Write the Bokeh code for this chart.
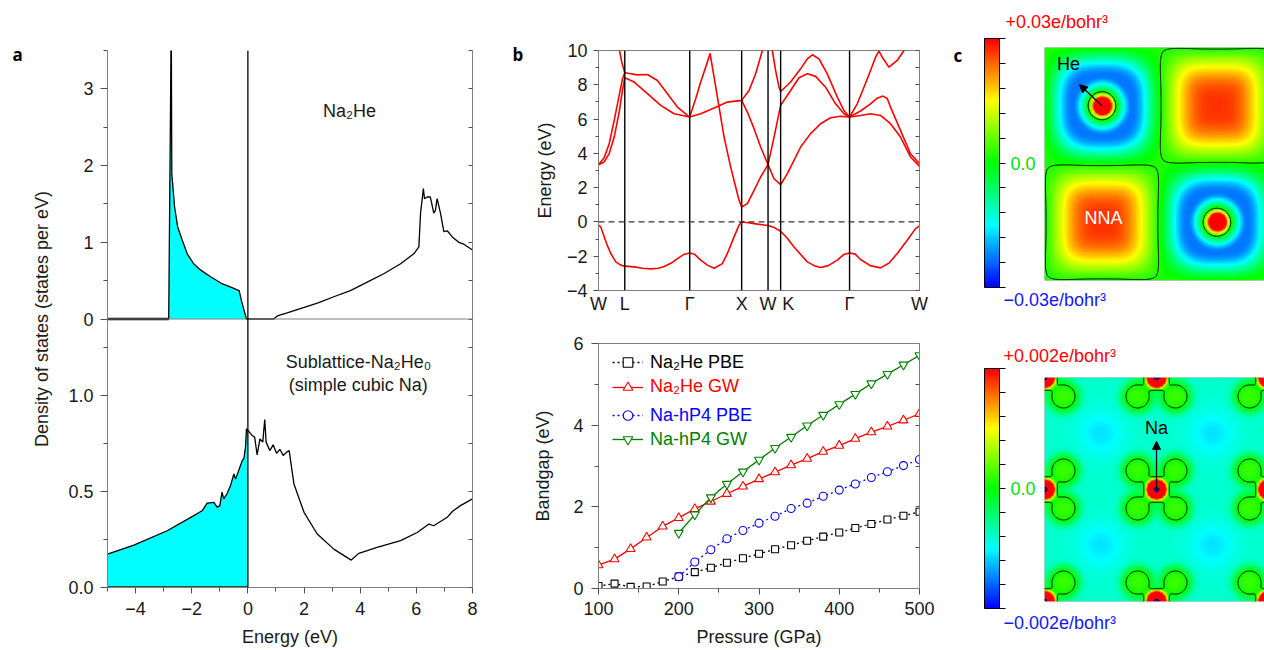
import numpy as np
from bokeh.plotting import figure
from bokeh.layouts import row, column
from bokeh.models import (Range1d, LinearAxis, FixedTicker, Label, Legend, LegendItem,
                          ColorBar, LinearColorMapper, Span, Arrow, NormalHead,
                          CustomJSTickFormatter)
from bokeh.embed import file_html
from bokeh.resources import INLINE

FONT = "Liberation Sans"
LETTER_FONT = "Open Sans"

# ---------------- Panel a : densities of states ----------------
na2he_val_e = [-5.0, -2.82, -2.75, -2.73, -2.71, -2.61, -2.50, -2.34, -2.16, -1.93, -1.69,
               -1.33, -0.92, -0.50, -0.38, -0.31, -0.23, -0.05]
na2he_val_dos = [0.0, 0.0, 3.0, 4.0, 1.90, 1.46, 1.20, 1.03, 0.85, 0.72, 0.64,
                 0.55, 0.46, 0.40, 0.38, 0.37, 0.24, 0.0]
na2he_cond_e = [0.92, 1.05, 1.40, 1.87, 2.50, 3.06, 3.65, 4.25, 4.84, 5.44, 5.91, 6.09,
                6.15, 6.25, 6.29, 6.39, 6.50, 6.62, 6.68, 6.74, 6.86, 6.98, 7.10, 7.28,
                7.51, 7.69, 8.0]
na2he_cond_dos = [0.0, 0.04, 0.08, 0.135, 0.21, 0.29, 0.37, 0.48, 0.59, 0.72, 0.85, 0.94,
                  1.38, 1.70, 1.57, 1.59, 1.59, 1.38, 1.42, 1.57, 1.38, 1.14, 1.15, 1.07,
                  1.0, 0.975, 0.90]
na2he_he_e = [-5.0, -2.82]
na2he_he_dos = [0.0, 0.0]

sub_val_e = [-5.0, -4.06, -2.875, -1.925, -1.63, -1.45, -1.21, -1.09, -1.0, -0.92, -0.86,
             -0.74, -0.62, -0.50, -0.44, -0.32, -0.20, -0.14, -0.085, -0.05, 0.0]
sub_val_dos = [0.174, 0.221, 0.296, 0.375, 0.40, 0.44, 0.444, 0.418, 0.427, 0.497, 0.462,
               0.49, 0.53, 0.592, 0.566, 0.613, 0.662, 0.674, 0.732, 0.828, 0.819]
sub_cond_e = [0.15, 0.24, 0.33, 0.43, 0.53, 0.60, 0.65, 0.78, 0.90, 1.02, 1.14, 1.26, 1.38,
              1.47, 1.64, 2.0, 2.47, 3.06, 3.68, 3.95, 4.25, 4.60, 5.44, 6.03, 6.45, 6.62,
              7.10, 7.28, 7.57, 8.0]
sub_cond_dos = [0.793, 0.784, 0.692, 0.775, 0.758, 0.876, 0.758, 0.714, 0.744, 0.70, 0.72,
                0.688, 0.706, 0.714, 0.54, 0.392, 0.279, 0.20, 0.143, 0.178, 0.192, 0.209,
                0.244, 0.287, 0.331, 0.322, 0.366, 0.396, 0.427, 0.462]
sub_he_e = [-5.0, 0.0]
sub_he_dos = [0.0, 0.0]

TOP_MAX = 3.5   # states per eV shown in the Na2He half
BOT_MAX = 1.4   # states per eV shown in the sublattice half

# ---------------- Panel b (top) : band structure ----------------
kpath = [0.0, 0.263, 0.913, 1.433, 1.697, 1.823, 2.513, 3.213]
klabels = ["W", "L", "Γ", "X", "W", "\u00a0\u00a0\u00a0K", "Γ", "W"]

band_v_k = [0, 0.023, 0.057, 0.09, 0.123, 0.173, 0.223, 0.263, 0.357, 0.44, 0.523, 0.6,
            0.657, 0.73, 0.79, 0.86, 0.913, 0.96, 1.023, 1.09, 1.157, 1.24, 1.29, 1.357,
            1.407, 1.433, 1.5, 1.557, 1.697, 1.76, 1.823, 1.89, 1.957, 2.09, 2.16, 2.223,
            2.3, 2.39, 2.46, 2.513, 2.57, 2.623, 2.72, 2.823, 2.91, 2.99, 3.09, 3.173, 3.213]
band_v_e = [-0.19, -0.29, -0.87, -1.40, -1.84, -2.33, -2.52, -2.58, -2.62, -2.70, -2.74,
            -2.70, -2.60, -2.40, -2.14, -1.88, -1.81, -1.88, -2.23, -2.52, -2.70, -2.43,
            -1.84, -0.87, -0.19, 0.0, -0.05, -0.10, -0.21, -0.33, -0.54, -0.95, -1.46,
            -2.33, -2.55, -2.66, -2.55, -2.23, -1.88, -1.81, -1.88, -2.19, -2.55, -2.68,
            -2.40, -1.84, -1.07, -0.39, -0.23]
band_c1_k = [0.913, 0.973, 1.023, 1.073, 1.117, 1.157, 1.207, 1.257, 1.323, 1.373, 1.407,
             1.433, 1.49, 1.557, 1.623, 1.697, 1.757, 1.823, 1.923, 2.007, 2.09, 2.173,
             2.273, 2.373, 2.457, 2.513]
band_c1_e = [6.12, 7.18, 8.16, 9.03, 9.81, 8.45, 6.70, 4.95, 3.20, 2.04, 1.26, 0.87, 1.07,
             1.84, 2.62, 3.34, 4.95, 6.80, 7.67, 8.41, 8.64, 8.49, 7.86, 6.89, 6.31, 6.12]
band_c2_k = [1.433, 1.49, 1.557, 1.623, 1.697, 1.757, 1.823, 1.89, 1.957, 2.023, 2.123,
             2.223, 2.323, 2.423, 2.513, 2.623, 2.723, 2.823, 2.923, 3.023, 3.123, 3.213]
band_c2_e = [7.09, 6.41, 5.44, 4.37, 3.34, 2.52, 2.17, 2.82, 3.59, 4.37, 5.15, 5.73, 6.08,
             6.16, 6.12, 6.21, 6.31, 6.21, 5.73, 4.95, 3.79, 3.24]
band_c3_k = [0.913, 1.023, 1.157, 1.29, 1.433, 1.507, 1.573, 1.64, 1.66]
band_c3_e = [6.12, 6.31, 6.64, 6.99, 7.09, 7.67, 8.64, 10.0, 10.4]
band_c4_k = [1.725, 1.74, 1.773, 1.807, 1.823, 1.923, 2.023, 2.09, 2.14, 2.207, 2.29, 2.39,
             2.457, 2.513]
band_c4_e = [10.4, 10.0, 8.83, 7.86, 7.61, 8.16, 8.93, 9.51, 9.75, 9.51, 8.64, 7.28, 6.50,
             6.12]
band_c5_k = [2.513, 2.623, 2.723, 2.79, 2.847, 2.89, 2.923, 3.023, 3.123, 3.213]
band_c5_e = [6.12, 6.47, 6.89, 7.22, 7.34, 7.20, 6.70, 5.34, 3.98, 3.40]
band_c6_k = [2.513, 2.59, 2.657, 2.723, 2.773, 2.807, 2.84, 2.907, 2.99, 3.057, 3.08]
band_c6_e = [6.12, 6.89, 7.86, 8.83, 9.61, 9.96, 9.61, 9.03, 9.42, 10.0, 10.4]
band_c7_k = [0, 0.057, 0.107, 0.157, 0.207, 0.24, 0.263, 0.323, 0.39, 0.49, 0.59, 0.69,
             0.79, 0.913]
band_c7_e = [3.34, 3.75, 4.56, 5.92, 7.38, 8.35, 8.70, 8.64, 8.58, 8.60, 8.25, 7.48, 6.70,
             6.12]
band_c8_k = [0, 0.057, 0.107, 0.157, 0.207, 0.24, 0.263, 0.357, 0.49, 0.623, 0.757, 0.913]
band_c8_e = [3.34, 3.50, 3.98, 4.95, 6.41, 7.67, 8.41, 8.16, 7.48, 6.80, 6.31, 6.12]
band_c9_k = [0.2, 0.233, 0.263]
band_c9_e = [10.3, 9.32, 8.70]

bands = [(band_v_k, band_v_e), (band_c1_k, band_c1_e), (band_c2_k, band_c2_e),
         (band_c3_k, band_c3_e), (band_c4_k, band_c4_e), (band_c5_k, band_c5_e),
         (band_c6_k, band_c6_e), (band_c7_k, band_c7_e), (band_c8_k, band_c8_e),
         (band_c9_k, band_c9_e)]

# ---------------- Panel b (bottom) : band gap vs pressure ----------------
pressure = [100, 120, 140, 160, 180, 200, 220, 240, 260, 280, 300, 320, 340, 360, 380,
            400, 420, 440, 460, 480, 500]
na2he_pbe = [0.06, 0.12, 0.04, 0.05, 0.17, 0.29, 0.40, 0.51, 0.63, 0.74, 0.85, 0.96, 1.06,
             1.17, 1.27, 1.37, 1.48, 1.58, 1.69, 1.78, 1.88]
na2he_gw = [0.57, 0.72, 0.97, 1.25, 1.52, 1.73, 1.95, 2.13, 2.32, 2.50, 2.68, 2.85, 3.02,
            3.18, 3.35, 3.50, 3.67, 3.83, 3.97, 4.12, 4.28]
hp4_pressure = [200, 220, 240, 260, 280, 300, 320, 340, 360, 380, 400, 420, 440, 460, 480, 500]
hp4_pbe = [0.29, 0.65, 0.95, 1.22, 1.42, 1.60, 1.77, 1.96, 2.09, 2.26, 2.41, 2.56, 2.72,
           2.86, 3.01, 3.16]
hp4_gw = [1.36, 1.81, 2.23, 2.56, 2.86, 3.15, 3.44, 3.71, 3.99, 4.25, 4.51, 4.76, 5.02,
          5.25, 5.48, 5.71]

# ---------------- Panel c : charge-density maps (model parameters) -------
he_x = [0.25, 0.75]
he_y = [0.75, 0.25]
nna_x = [0.25, 0.75]
nna_y = [0.25, 0.75]
he_core = (0.1, 0.035)                 # amplitude, width
he_ring = (-0.023, 0.13, 0.05, 0.085)  # amplitude, radius, inner width, outer width
nna_blob = (0.027, 0.2)                # amplitude, size
top_limit = 0.03
top_contour = [0.002]

na_sites = [-1, 0, 1, 2, 3]
na_core = (0.02, 0.06)
na_center = (-0.05, 0.02)
na_lobe = (0.001, 0.15, 0.17)          # amplitude, width, diagonal offset
sub_background = -0.0008
sub_hollow = (-0.0003, 0.2)
bot_limit = 0.002
bot_contour = [0.0]

# ------------------------------------------------------------------
def blank_fmt():
    return CustomJSTickFormatter(code="return '';")

def minus_fmt():
    return CustomJSTickFormatter(code="return tick < 0 ? '\u2212' + Math.abs(tick) : tick.toString();")

def style_axis(ax):
    ax.axis_line_color = "#808080"
    ax.major_tick_line_color = "#505050"
    ax.minor_tick_line_color = "#505050"
    ax.major_label_text_font = FONT
    ax.major_label_text_font_size = "18px"
    ax.major_label_text_color = "#1a1a1a"
    ax.axis_label_text_font = FONT
    ax.axis_label_text_font_size = "18px"
    ax.axis_label_text_font_style = "normal"
    ax.axis_label_text_color = "#1a1a1a"

def text(p, txt, x, y, color="#1a1a1a", align="center", **kw):
    p.add_layout(Label(x=x, y=y, text=txt, text_font=FONT, text_font_size="18px",
                       text_color=color, text_align=align, text_baseline="middle", **kw))

def outside_text(p, txt, left, mid, color="#1a1a1a", size="18px", style="normal", font=FONT):
    # caption placed outside the frame (left edge / vertical centre in px from frame corner)
    p.add_layout(ColorBar(color_mapper=LinearColorMapper(palette=["#ffffff"], low=0, high=1),
                          orientation="horizontal",
                          location=(left, mid - 11), width=1, height=1, padding=0, margin=0,
                          scale_alpha=0, bar_line_color=None, major_tick_line_color=None,
                          minor_tick_line_color=None, ticker=FixedTicker(ticks=[]),
                          title=txt, title_standoff=0, title_text_font=font,
                          title_text_font_size=size, title_text_color=color,
                          title_text_font_style=style, background_fill_alpha=0,
                          border_line_color=None))

# ================= Panel a =================
pa = figure(width=495, height=650, x_range=Range1d(-5, 8), y_range=Range1d(0, 2 * BOT_MAX),
            output_backend="svg", toolbar_location=None, outline_line_color=None,
            min_border_left=107, min_border_right=23, min_border_top=50, min_border_bottom=63)
pa.extra_y_ranges = {"top": Range1d(-TOP_MAX, TOP_MAX)}
pa.grid.visible = False

scale = BOT_MAX / TOP_MAX
left_major = [0.0, 0.5, 1.0] + [BOT_MAX + t * scale for t in (0, 1, 2, 3)]
left_minor = [0.25, 0.75, 1.25] + [BOT_MAX + t * scale for t in (0.5, 1.5, 2.5, 3.5)]
yl = pa.yaxis[0]
yl.ticker = FixedTicker(ticks=left_major, minor_ticks=left_minor)
yl.formatter = CustomJSTickFormatter(args=dict(b=BOT_MAX, t=TOP_MAX), code="""
    if (tick < b - 1e-6) return tick.toFixed(1);
    return Math.round((tick - b) * t / b).toString();""")
yl.axis_label = "Density of states (states per eV)"
yl.major_tick_out = 7; yl.major_tick_in = 0; yl.minor_tick_out = 4; yl.minor_tick_in = 0
yl.major_label_standoff = 7; yl.axis_label_standoff = 13
style_axis(yl)

xb = pa.xaxis[0]
xb.ticker = FixedTicker(ticks=[-4, -2, 0, 2, 4, 6, 8], minor_ticks=[-5, -3, -1, 1, 3, 5, 7])
xb.formatter = minus_fmt()
xb.axis_label = "Energy (eV)"
xb.major_tick_out = 6; xb.major_tick_in = 0; xb.minor_tick_out = 4; xb.minor_tick_in = 0
xb.major_label_standoff = 8; xb.axis_label_standoff = 9
style_axis(xb)

ra = LinearAxis(ticker=FixedTicker(ticks=left_major + left_minor), formatter=blank_fmt(),
                major_tick_in=4, major_tick_out=0, minor_tick_in=0, minor_tick_out=0)
style_axis(ra)
pa.add_layout(ra, "right")

pa.varea(x=na2he_val_e, y1=0, y2=na2he_val_dos, fill_color="#00FFFF", y_range_name="top")
pa.line(na2he_val_e + na2he_cond_e, na2he_val_dos + na2he_cond_dos, line_color="black",
        line_width=1.3, y_range_name="top")
pa.line(na2he_he_e, na2he_he_dos, line_color="black", line_width=2.5, y_range_name="top")

pa.varea(x=sub_val_e, y1=0, y2=sub_val_dos, fill_color="#00FFFF")
pa.line(sub_val_e + sub_cond_e, sub_val_dos + sub_cond_dos, line_color="black", line_width=1.3)
pa.line(sub_he_e, sub_he_dos, line_color="#2f4f4f", line_width=3)

pa.add_layout(Span(location=BOT_MAX, dimension="width", line_color="#808080", line_width=1))
pa.add_layout(Span(location=0, dimension="height", line_color="black", line_width=1.3))

text(pa, "Na₂He", 3.62, 2.71, y_range_name="top")
text(pa, "Sublattice-Na₂He₀", 3.94, 1.177)
text(pa, "(simple cubic Na)", 3.93, 1.055)
outside_text(pa, "a", -95, 532, color="black", size="17px", style="bold", font=LETTER_FONT)

# ================= Panel b top =================
pbt = figure(width=440, height=325, x_range=Range1d(kpath[0], kpath[-1]), y_range=Range1d(-4, 10),
             output_backend="svg", toolbar_location=None, outline_line_color="#808080",
             min_border_left=103, min_border_right=16, min_border_top=50, min_border_bottom=35)
pbt.grid.visible = False
ya = pbt.yaxis[0]
ya.ticker = FixedTicker(ticks=[-4, -2, 0, 2, 4, 6, 8, 10], minor_ticks=[-3, -1, 1, 3, 5, 7, 9])
ya.formatter = minus_fmt()
ya.axis_label = "Energy (eV)"
ya.major_tick_out = 5; ya.major_tick_in = 0; ya.minor_tick_out = 3; ya.minor_tick_in = 0
ya.major_label_standoff = 6; ya.axis_label_standoff = 9
style_axis(ya)
xa = pbt.xaxis[0]
xa.ticker = FixedTicker(ticks=kpath)
xa.formatter = CustomJSTickFormatter(args=dict(ks=kpath, labels=klabels), code="""
    let best = 0, d = 1e9;
    for (let i = 0; i < ks.length; i++) { const dd = Math.abs(ks[i] - tick); if (dd < d) { d = dd; best = i; } }
    return labels[best];""")
xa.major_tick_out = 0; xa.major_tick_in = 0; xa.minor_tick_out = 0
xa.major_label_standoff = 3
style_axis(xa)
rb = LinearAxis(ticker=FixedTicker(ticks=list(range(-4, 11))), formatter=blank_fmt(),
                major_tick_in=4, major_tick_out=0, minor_tick_in=0, minor_tick_out=0)
style_axis(rb)
pbt.add_layout(rb, "right")

for k in kpath[1:-1]:
    pbt.add_layout(Span(location=k, dimension="height", line_color="black", line_width=1.4))
pbt.add_layout(Span(location=0, dimension="width", line_color="#333333", line_width=1.2,
                    line_dash="6 4"))
for bk, be in bands:
    pbt.line(bk, be, line_color="#FF0000", line_width=1.6, line_join="round")
outside_text(pbt, "b", -86, 235, color="black", size="17px", style="bold", font=LETTER_FONT)

# ================= Panel b bottom =================
pbb = figure(width=440, height=325, x_range=Range1d(100, 500), y_range=Range1d(0, 6),
             output_backend="svg", toolbar_location=None, outline_line_color="#808080",
             min_border_left=98, min_border_right=12, min_border_top=18, min_border_bottom=62)
pbb.grid.visible = False
yb = pbb.yaxis[0]
yb.ticker = FixedTicker(ticks=[0, 2, 4, 6], minor_ticks=[1, 3, 5])
yb.axis_label = "Bandgap (eV)"
yb.major_tick_out = 7; yb.major_tick_in = 0; yb.minor_tick_out = 4; yb.minor_tick_in = 0
yb.major_label_standoff = 8; yb.axis_label_standoff = 17
style_axis(yb)
xbb = pbb.xaxis[0]
xbb.ticker = FixedTicker(ticks=[100, 200, 300, 400, 500], minor_ticks=[150, 250, 350, 450])
xbb.axis_label = "Pressure (GPa)"
xbb.major_tick_out = 6; xbb.major_tick_in = 0; xbb.minor_tick_out = 4; xbb.minor_tick_in = 0
xbb.major_label_standoff = 7; xbb.axis_label_standoff = 9
style_axis(xbb)
rbb = LinearAxis(ticker=FixedTicker(ticks=[1, 2, 3, 4, 5]), formatter=blank_fmt(),
                 major_tick_in=4, major_tick_out=0, minor_tick_in=0, minor_tick_out=0)
style_axis(rbb)
pbb.add_layout(rbb, "right")

series = [
    ("Na₂He PBE", pressure, na2he_pbe, "#000000", "2 3", "square", 7),
    ("Na₂He GW", pressure, na2he_gw, "#FF0000", "solid", "triangle", 9),
    ("Na-hP4 PBE", hp4_pressure, hp4_pbe, "#0000FF", "2 3", "circle", 8),
    ("Na-hP4 GW", hp4_pressure, hp4_gw, "#008000", "solid", "inverted_triangle", 9),
]
legend_bottoms = [213.7, 189.3, 161, 136.7]
for (name, xs, ys, col, dash, marker, size), vb in zip(series, legend_bottoms):
    lr = pbb.line(xs, ys, line_color=col, line_width=1.3, line_dash=dash)
    sr = pbb.scatter(xs, ys, marker=marker, size=size, line_color=col, fill_color="white",
                     line_width=1.1)
    lg = Legend(items=[LegendItem(label=name, renderers=[lr, sr])], location=(14, vb),
                padding=0, margin=0, spacing=0, border_line_color=None,
                background_fill_alpha=0, glyph_width=31, glyph_height=24, label_height=24,
                label_standoff=7, label_text_font=FONT, label_text_font_size="18px",
                label_text_color=col, label_text_baseline="middle")
    pbb.add_layout(lg)

# ================= Panel c =================
t = np.linspace(0, 1, 256)
stop_pos = [0.0, 0.25, 0.5, 0.75, 1.0]
stop_r = [0, 0, 0, 255, 255]
stop_g = [0, 255, 255, 255, 0]
stop_b = [255, 255, 0, 0, 0]
JET = ["#%02x%02x%02x" % (int(np.interp(v, stop_pos, stop_r)), int(np.interp(v, stop_pos, stop_g)),
                          int(np.interp(v, stop_pos, stop_b))) for v in t]

zero_fmt = CustomJSTickFormatter(code="return Math.abs(tick) < 1e-12 ? '0.0' : '';")

def scale_bar(p, mapper, limit, bar_height):
    p.add_layout(ColorBar(color_mapper=mapper, location=(-60, -7), width=15, height=bar_height,
                          padding=0, margin=0,
                          ticker=FixedTicker(ticks=np.linspace(-limit, limit, 11).tolist()),
                          formatter=zero_fmt, major_tick_in=0, major_tick_out=6,
                          major_tick_line_color="black", bar_line_color="black",
                          major_label_text_font=FONT, major_label_text_font_size="18px",
                          major_label_text_color="#00E000", label_standoff=5,
                          background_fill_alpha=0, border_line_color=None))

# --- Na2He map
gx = np.linspace(0, 1, 320)
gy = np.linspace(0, 1, 320)
X, Y = np.meshgrid(gx, gy)
Z1 = np.zeros_like(X)
for cx, cy in zip(he_x, he_y):
    for sx in (-1, 0, 1):
        for sy in (-1, 0, 1):
            dx = X - (cx + sx); dy = Y - (cy + sy)
            r = np.hypot(dx, dy)
            rs = (np.abs(dx) ** 3 + np.abs(dy) ** 3) ** (1 / 3)
            Z1 += he_core[0] * np.exp(-(r / he_core[1]) ** 2)
            inner = r < he_ring[1]
            rr = np.where(inner, r, rs)
            w = np.where(inner, he_ring[2], he_ring[3])
            Z1 += he_ring[0] * np.exp(-((rr - he_ring[1]) / w) ** 2)
for cx, cy in zip(nna_x, nna_y):
    for sx in (-1, 0, 1):
        for sy in (-1, 0, 1):
            dx = X - (cx + sx); dy = Y - (cy + sy)
            rs = (np.abs(dx) ** 4 + np.abs(dy) ** 4) ** (1 / 4)
            Z1 += nna_blob[0] * np.exp(-(rs / nna_blob[1]) ** 3)

map1 = LinearColorMapper(palette=JET, low=-top_limit, high=top_limit)
pct = figure(width=329, height=325, x_range=Range1d(0, 0.957), y_range=Range1d(0, 1),
             output_backend="svg", toolbar_location=None, x_axis_location=None,
             y_axis_location=None, outline_line_color="#c8c8c8",
             min_border_left=109, min_border_right=0, min_border_top=47, min_border_bottom=45)
pct.grid.visible = False
pct.image(image=[Z1], x=0, y=0, dw=1, dh=1, color_mapper=map1)
pct.contour(gx, gy, Z1, levels=top_contour, line_color="black", line_width=1)
scale_bar(pct, map1, top_limit, 249)
pct.add_layout(Arrow(end=NormalHead(size=8, fill_color="black", line_color="black"),
                     x_start=he_x[0], y_start=he_y[0], x_end=0.152, y_end=0.841,
                     line_color="black", line_width=1.3))
text(pct, "He", 0.104, 0.931, color="black")
text(pct, "NNA", 0.257, 0.27, color="white")
outside_text(pct, "+0.03e/bohr³", -39, 259, color="#FF0000")
outside_text(pct, "−0.03e/bohr³", -41, -19, color="#1515FF")
outside_text(pct, "c", -91, 224, color="black", size="17px", style="bold", font=LETTER_FONT)

# --- sublattice map
hx = np.linspace(0, 2, 360)
hy = np.linspace(0, 2, 360)
X2, Y2 = np.meshgrid(hx, hy)
Z2 = np.full_like(X2, sub_background)
for i in na_sites:
    for j in na_sites:
        dx = X2 - i; dy = Y2 - j
        r = np.hypot(dx, dy)
        Z2 += na_core[0] * np.exp(-(r / na_core[1]) ** 2)
        Z2 += na_center[0] * np.exp(-(r / na_center[1]) ** 2)
        for ox in (-1, 1):
            for oy in (-1, 1):
                d = np.hypot(dx - ox * na_lobe[2], dy - oy * na_lobe[2])
                Z2 += na_lobe[0] * np.exp(-(d / na_lobe[1]) ** 4)
        Z2 += sub_hollow[0] * np.exp(-(np.hypot(dx - 0.5, dy - 0.5) / sub_hollow[1]) ** 2)

map2 = LinearColorMapper(palette=JET, low=-bot_limit, high=bot_limit)
pcb = figure(width=329, height=325, x_range=Range1d(0, 1.964), y_range=Range1d(0, 2),
             output_backend="svg", toolbar_location=None, x_axis_location=None,
             y_axis_location=None, outline_line_color="#c8c8c8",
             min_border_left=109, min_border_right=0, min_border_top=52, min_border_bottom=49)
pcb.grid.visible = False
pcb.image(image=[Z2], x=0, y=0, dw=2, dh=2, color_mapper=map2)
pcb.contour(hx, hy, Z2, levels=bot_contour, line_color="black", line_width=1)
scale_bar(pcb, map2, bot_limit, 240)
pcb.add_layout(Arrow(end=NormalHead(size=8, fill_color="black", line_color="black"),
                     x_start=1.0, y_start=1.0, x_end=1.0, y_end=1.43,
                     line_color="black", line_width=1.3))
text(pcb, "Na", 1.0, 1.545, color="black")
outside_text(pcb, "+0.002e/bohr³", -41, 246, color="#FF0000")
outside_text(pcb, "−0.002e/bohr³", -41, -21, color="#1515FF")

layout = row(pa, column(pbt, pbb), column(pct, pcb))
open("out.html", "w").write(file_html(layout, INLINE))
